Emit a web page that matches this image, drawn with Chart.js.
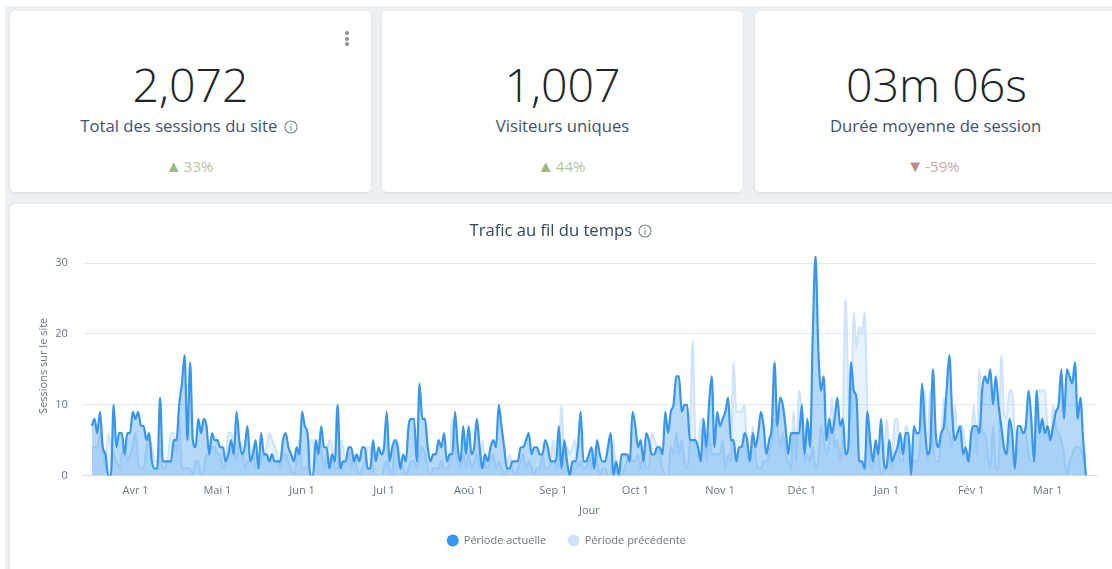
<!DOCTYPE html>
<html lang="fr">
<head>
<meta charset="utf-8">
<title>Trafic au fil du temps</title>
<script src="https://cdn.jsdelivr.net/npm/chart.js@4/dist/chart.umd.min.js"></script>
<style>
html, body { margin: 0; padding: 0; width: 1112px; height: 569px; overflow: hidden; background: #fff; font-family: "Open Sans", sans-serif; }
#fond { position: absolute; left: 5px; top: 6px; right: 0; bottom: 0; background: #edf0f3; }
.card { position: absolute; background: #fff; border-radius: 5px; box-shadow: 0 1px 3px rgba(60, 70, 90, 0.12); text-align: center; }
.kpi { top: 11px; height: 181px; width: 361px; }
.num { position: absolute; left: 0; right: 0; top: 40px; font-size: 46.5px; font-weight: 300; line-height: 66px; color: #1f2529; }
.lbl { position: absolute; left: 0; right: 0; top: 103px; font-size: 16.7px; line-height: 24px; color: #3f5468; }
.delta { position: absolute; left: 0; right: 0; top: 144px; font-size: 15px; line-height: 22px; }
.up { color: #b2c79c; }
.up b { color: #9dba85; font-weight: 400; font-size: 16.5px; margin-right: -2px; }
.down { color: #c9a9a9; }
.down b { color: #b98d8d; font-weight: 400; font-size: 16.5px; margin-right: -2px; }
.info { display: inline-block; vertical-align: -2px; margin-left: 2px; }
.dots { position: absolute; left: 335px; top: 20px; width: 4px; }
.dots i { display: block; width: 4px; height: 4px; margin-bottom: 1.5px; border-radius: 50%; background: #8a8f94; }
#panel { left: 10px; top: 204px; width: 1110px; height: 380px; }
#titre { position: absolute; left: 0; top: 14px; width: 1102px; font-size: 16.6px; line-height: 24px; color: #33475b; }
canvas { position: absolute; left: 0; top: 0; }
</style>
</head>
<body>
<div id="fond"></div>
<div class="card kpi" style="left:10px">
  <div class="dots"><i></i><i></i><i></i></div>
  <div class="num">2,072</div>
  <div class="lbl" style="left:-3px">Total des sessions du site <svg class="info" width="14" height="14" viewBox="0 0 14 14"><circle cx="7" cy="7" r="6" fill="none" stroke="#7f8a94" stroke-width="1.1"/><rect x="6.4" y="6" width="1.2" height="4.2" fill="#7f8a94"/><rect x="6.4" y="3.8" width="1.2" height="1.3" fill="#7f8a94"/></svg></div>
  <div class="delta up" style="left:-2px"><b>▲</b> 33%</div>
</div>
<div class="card kpi" style="left:382px">
  <div class="num">1,007</div>
  <div class="lbl">Visiteurs uniques</div>
  <div class="delta up" style="left:-2px"><b>▲</b> 44%</div>
</div>
<div class="card kpi" style="left:755px;width:400px;text-align:left">
  <div class="num" style="left:91px">03m 06s</div>
  <div class="lbl" style="left:75px">Durée moyenne de session</div>
  <div class="delta down" style="left:152px"><b>▼</b> -59%</div>
</div>
<div class="card" id="panel">
  <canvas id="trafic" width="1102" height="365"></canvas>
  <div id="titre">Trafic au fil du temps <svg class="info" width="14" height="14" viewBox="0 0 14 14"><circle cx="7" cy="7" r="6" fill="none" stroke="#7f8a94" stroke-width="1.1"/><rect x="6.4" y="6" width="1.2" height="4.2" fill="#7f8a94"/><rect x="6.4" y="3.8" width="1.2" height="1.3" fill="#7f8a94"/></svg></div>
</div>
<script>
const monthDays = [16, 46, 77, 107, 138, 169, 199, 230, 260, 291, 322, 350];
const monthLabels = ['Avr 1', 'Mai 1', 'Jun 1', 'Jul 1', 'Aoû 1', 'Sep 1', 'Oct 1', 'Nov 1', 'Déc 1', 'Jan 1', 'Fév 1', 'Mar 1'];

const currentPeriod = [
    7, 8, 6, 9, 4, 3, 0, 0, 10, 4,
    6, 6, 3, 6, 6, 9, 8, 9, 7, 7,
    5, 6, 2, 1, 1, 11, 2, 2, 2, 2,
    5, 5, 10, 13, 17, 5, 16, 5, 4, 8,
    6, 8, 7, 3, 6, 5, 5, 4, 4, 2,
    3, 5, 3, 9, 5, 3, 4, 7, 2, 3,
    5, 1, 6, 3, 3, 2, 3, 2, 2, 2,
    5, 6, 4, 3, 2, 4, 3, 9, 7, 6,
    0, 0, 5, 3, 7, 4, 4, 1, 3, 2,
    10, 1, 2, 2, 4, 4, 2, 3, 2, 4,
    4, 1, 1, 5, 2, 4, 3, 4, 9, 2,
    4, 5, 4, 1, 3, 2, 7, 8, 8, 2,
    13, 8, 8, 4, 2, 3, 3, 5, 4, 6,
    2, 3, 3, 9, 4, 2, 7, 3, 7, 3,
    4, 8, 4, 1, 3, 2, 4, 5, 4, 10,
    7, 4, 1, 1, 2, 2, 2, 4, 4, 5,
    6, 3, 4, 4, 3, 3, 5, 4, 2, 2,
    2, 7, 1, 5, 2, 0, 2, 2, 4, 9,
    2, 2, 3, 4, 1, 5, 3, 2, 2, 4,
    6, 0, 2, 0, 3, 3, 3, 2, 9, 7,
    4, 5, 2, 6, 5, 3, 3, 4, 4, 3,
    9, 6, 9, 10, 14, 14, 9, 10, 10, 5,
    5, 5, 4, 2, 8, 4, 10, 14, 4, 9,
    7, 8, 9, 11, 5, 5, 2, 4, 4, 6,
    5, 2, 6, 4, 6, 9, 7, 3, 5, 7,
    16, 7, 11, 10, 7, 3, 6, 6, 6, 6,
    10, 3, 8, 4, 20, 31, 18, 12, 14, 5,
    8, 6, 8, 11, 7, 8, 3, 4, 16, 12,
    11, 2, 2, 1, 9, 5, 2, 5, 3, 8,
    2, 1, 5, 2, 3, 4, 6, 3, 6, 6,
    0, 7, 6, 6, 13, 7, 3, 4, 15, 6,
    4, 6, 7, 12, 17, 9, 5, 6, 7, 3,
    4, 2, 6, 7, 7, 6, 12, 14, 13, 15,
    10, 14, 10, 7, 4, 3, 8, 6, 1, 7,
    7, 6, 7, 12, 8, 2, 12, 6, 8, 6,
    7, 5, 7, 9, 10, 15, 8, 15, 14, 13,
    16, 8, 11, 5, 0
];

const previousPeriod = [
    4, 4, 4, 6, 4, 1, 6, 4, 3, 2,
    1, 3, 4, 2, 3, 4, 6, 2, 1, 1,
    4, 5, 4, 2, 2, 4, 1, 1, 3, 6,
    6, 3, 8, 1, 1, 1, 1, 0, 2, 2,
    0, 1, 3, 3, 4, 4, 3, 3, 1, 2,
    6, 6, 4, 2, 5, 4, 1, 2, 2, 4,
    1, 1, 2, 3, 4, 6, 5, 4, 3, 1,
    3, 3, 2, 1, 0, 2, 5, 1, 1, 1,
    5, 5, 2, 5, 4, 1, 3, 5, 4, 1,
    1, 5, 4, 2, 4, 1, 3, 1, 0, 1,
    2, 4, 4, 1, 0, 0, 0, 1, 2, 1,
    0, 5, 5, 2, 1, 0, 1, 2, 2, 1,
    3, 4, 3, 1, 0, 1, 1, 1, 2, 1,
    1, 2, 8, 4, 2, 1, 3, 1, 3, 1,
    2, 3, 1, 5, 2, 1, 2, 3, 1, 2,
    1, 0, 1, 3, 1, 0, 1, 2, 3, 1,
    2, 1, 0, 1, 1, 3, 1, 1, 2, 5,
    1, 2, 10, 3, 4, 3, 4, 5, 1, 2,
    1, 1, 3, 1, 4, 2, 0, 1, 1, 0,
    0, 5, 0, 0, 0, 1, 2, 3, 2, 2,
    3, 1, 3, 1, 1, 6, 5, 4, 3, 1,
    0, 0, 4, 3, 6, 3, 5, 2, 1, 5,
    19, 5, 4, 8, 8, 2, 6, 3, 3, 3,
    3, 5, 1, 3, 2, 16, 9, 9, 9, 10,
    3, 2, 7, 3, 1, 1, 2, 2, 3, 5,
    8, 7, 4, 6, 3, 2, 1, 9, 2, 12,
    9, 2, 3, 2, 4, 1, 2, 7, 5, 3,
    5, 11, 4, 5, 2, 7, 25, 12, 8, 23,
    18, 21, 20, 23, 9, 2, 1, 4, 3, 0,
    1, 8, 3, 1, 8, 8, 2, 2, 7, 6,
    3, 2, 2, 3, 8, 12, 2, 12, 5, 2,
    2, 5, 11, 7, 6, 4, 10, 6, 7, 7,
    3, 2, 5, 10, 3, 15, 6, 6, 3, 1,
    7, 1, 1, 17, 9, 8, 12, 12, 6, 6,
    6, 6, 6, 3, 2, 2, 12, 12, 12, 12,
    6, 5, 10, 7, 6, 5, 3, 0, 2, 3,
    4, 4, 4, 2, 3
];

const blueLine = '#3896ec';
const paleLine = '#cfe4fa';

const ctx = document.getElementById('trafic').getContext('2d');
const chart = new Chart(ctx, {
    type: 'line',
    data: {
        datasets: [{
            label: 'Période actuelle',
            data: currentPeriod.map((v, i) => ({ x: i, y: v })),
            borderColor: blueLine,
            backgroundColor: 'rgba(56, 150, 236, 0.36)',
            borderWidth: 2.2,
            fill: 'origin',
            pointRadius: 0,
            cubicInterpolationMode: 'monotone'
        }, {
            label: 'Période précédente',
            data: previousPeriod.map((v, i) => ({ x: i, y: v })),
            borderColor: paleLine,
            backgroundColor: 'rgba(56, 150, 236, 0.12)',
            borderWidth: 2.2,
            fill: 'origin',
            pointRadius: 0,
            cubicInterpolationMode: 'monotone'
        }]
    },
    options: {
        responsive: false,
        animation: false,
        layout: { padding: { top: 52, left: 27, right: 16, bottom: 13 } },
        scales: {
            x: {
                type: 'linear',
                min: -3.3,
                max: 367.7,
                grid: { display: false },
                border: { color: '#d8dce8', width: 1 },
                afterBuildTicks: function (axis) {
                    axis.ticks = monthDays.map(d => ({ value: d }));
                },
                ticks: {
                    autoSkip: false,
                    maxRotation: 0,
                    padding: 1,
                    color: '#66768a',
                    font: { family: 'Open Sans', size: 11 },
                    callback: function (value) {
                        return monthLabels[monthDays.indexOf(value)];
                    }
                },
                title: {
                    display: true,
                    text: 'Jour',
                    color: '#66768a',
                    font: { family: 'Open Sans', size: 11 },
                    padding: { top: 5, bottom: -4 }
                }
            },
            y: {
                min: 0,
                max: 31,
                grid: { color: '#e6e9ec', tickColor: 'transparent', tickLength: 14 },
                border: { display: false },
                afterBuildTicks: function (axis) {
                    axis.ticks = [0, 10, 20, 30].map(v => ({ value: v }));
                },
                ticks: {
                    padding: 1,
                    color: '#66768a',
                    font: { family: 'Open Sans', size: 11 }
                },
                title: {
                    display: true,
                    text: 'Sessions sur le site',
                    color: '#66768a',
                    font: { family: 'Open Sans', size: 11 },
                    padding: { top: 0, bottom: 4 }
                }
            }
        },
        plugins: {
            title: { display: false },
            tooltip: { enabled: false },
            legend: {
                position: 'bottom',
                labels: {
                    usePointStyle: true,
                    pointStyle: 'circle',
                    boxHeight: 8.5,
                    padding: 22,
                    color: '#6b7885',
                    font: { family: 'Open Sans', size: 11 },
                    generateLabels: function (c) {
                        return c.data.datasets.map((d, i) => ({
                            text: d.label,
                            fillStyle: d.borderColor,
                            strokeStyle: d.borderColor,
                            fontColor: '#6b7885',
                            pointStyle: 'circle',
                            lineWidth: 0,
                            datasetIndex: i
                        }));
                    }
                }
            }
        }
    }
});
</script>
</body>
</html>
